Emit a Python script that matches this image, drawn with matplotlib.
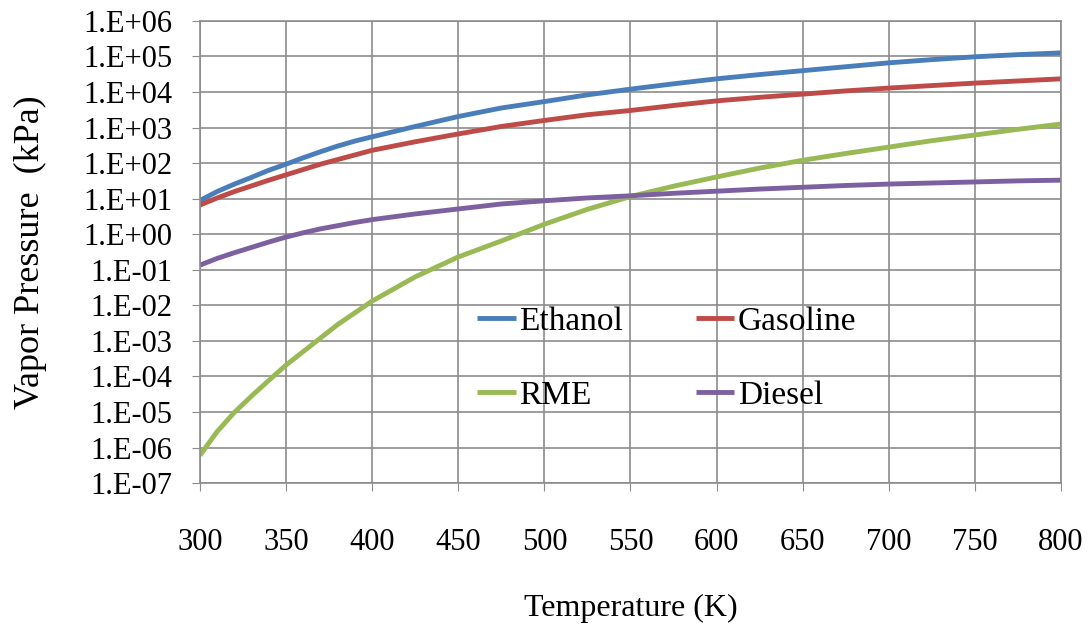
import numpy as np
import matplotlib
matplotlib.use("Agg")
import matplotlib.pyplot as plt
from matplotlib.ticker import FixedLocator, FuncFormatter

plt.rcParams['font.family'] = ['Liberation Serif', 'DejaVu Serif']

# temperature (K) and log10 of vapor pressure (kPa) for each fuel
temperature = [300, 310, 320, 330, 340, 350, 360, 370, 380, 390, 400,
               425, 450, 475, 500, 525, 550, 575, 600, 625, 650, 675, 700, 725, 750, 775, 800]
log_ethanol = [0.95, 1.20, 1.41, 1.60, 1.80, 1.97, 2.15, 2.32, 2.48, 2.62, 2.74,
               3.03, 3.31, 3.55, 3.73, 3.92, 4.08, 4.23, 4.37, 4.49, 4.60, 4.71, 4.82, 4.91, 4.99, 5.05, 5.10]
log_gasoline = [0.82, 1.02, 1.20, 1.36, 1.52, 1.67, 1.82, 1.97, 2.10, 2.23, 2.36,
                2.60, 2.82, 3.03, 3.20, 3.36, 3.48, 3.62, 3.75, 3.85, 3.94, 4.03, 4.11, 4.18, 4.25, 4.31, 4.37]
log_rme = [-6.22, -5.55, -5.01, -4.55, -4.11, -3.68, -3.30, -2.92, -2.54, -2.21, -1.88,
           -1.20, -0.64, -0.19, 0.28, 0.70, 1.06, 1.35, 1.61, 1.86, 2.08, 2.27, 2.45, 2.63, 2.79, 2.95, 3.10]
log_diesel = [-0.87, -0.68, -0.52, -0.37, -0.22, -0.08, 0.04, 0.15, 0.24, 0.33, 0.41,
              0.57, 0.71, 0.85, 0.94, 1.02, 1.08, 1.15, 1.21, 1.27, 1.32, 1.37, 1.41, 1.44, 1.47, 1.50, 1.52]

series = [("Ethanol", log_ethanol, "#4a7ebb"),
          ("Gasoline", log_gasoline, "#be4b48"),
          ("RME", log_rme, "#98b954"),
          ("Diesel", log_diesel, "#7d60a0")]

fig = plt.figure(figsize=(10.91, 6.29), dpi=100)
ax = fig.add_axes([0.1833, 0.232, 0.7892, 0.7348])

lines = {}
for name, vals, col in series:
    lines[name], = ax.plot(temperature, 10 ** np.array(vals), color=col, lw=3.5,
                           label=name, solid_capstyle='butt', solid_joinstyle='round')

ax.set_yscale('log')
ax.set_xlim(300, 800)
ax.set_ylim(1e-7, 1e6)
ax.xaxis.set_major_locator(FixedLocator(np.arange(300, 801, 50)))
ax.yaxis.set_major_locator(FixedLocator([10.0 ** e for e in range(-7, 7)]))
ax.yaxis.set_minor_locator(FixedLocator([]))
ax.yaxis.set_major_formatter(FuncFormatter(lambda v, p: "1.E%+03d" % int(round(np.log10(v)))))

ax.grid(True, color="#8c8c8c", lw=1.2)
ax.set_axisbelow(True)
for s in ax.spines.values():
    s.set_color("#8c8c8c")
    s.set_linewidth(1.2)

ax.tick_params(axis='x', length=6, color="#8c8c8c", pad=26, labelsize=22)
ax.tick_params(axis='y', length=6, color="#8c8c8c", pad=14, labelsize=22)

ax.set_xlabel("Temperature (K)", fontsize=23, labelpad=27)
ax.set_ylabel("Vapor Pressure  (kPa)", fontsize=26)
ax.yaxis.set_label_coords(-0.178, 0.5)

# two rows: Ethanol / Gasoline on top, RME / Diesel below
order = ["Ethanol", "RME", "Gasoline", "Diesel"]
ax.legend([lines[n] for n in order], order, loc='upper left',
          bbox_to_anchor=(0.322, 0.383), ncol=2, frameon=False,
          fontsize=24, handlelength=1.15, handletextpad=0.1, columnspacing=2.2,
          labelspacing=1.32, borderpad=0, borderaxespad=0)

fig.savefig("out.png", dpi=100)
